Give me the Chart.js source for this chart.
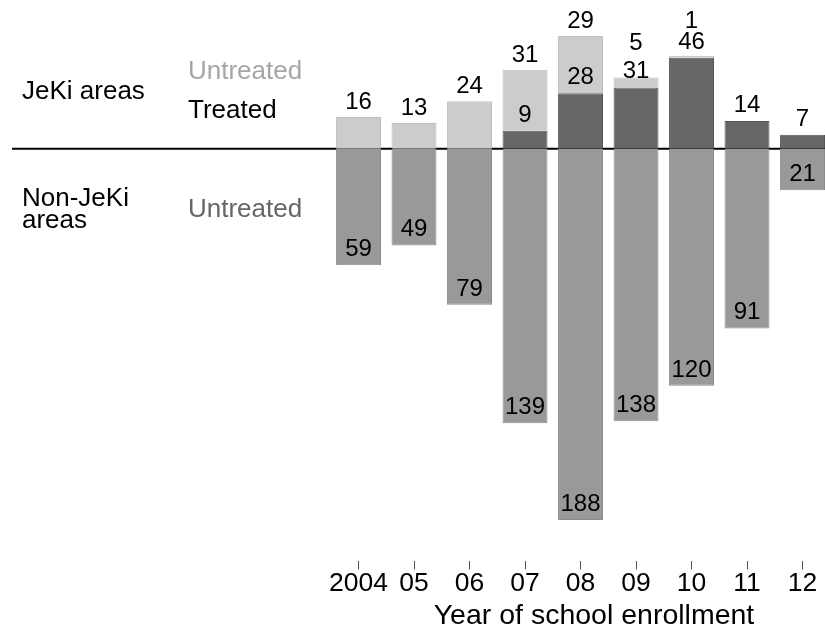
<!DOCTYPE html>
<html>
<head>
<meta charset="utf-8">
<script src="https://cdn.jsdelivr.net/npm/chart.js@4/dist/chart.umd.min.js"></script>
<style>
  html, body { margin: 0; padding: 0; background: #fff; overflow: hidden; }
  #wrap { width: 825px; height: 628px; }
</style>
</head>
<body>
<div id="wrap"><canvas id="chart" width="825" height="628"></canvas></div>
<script>
var years = ['2004', '05', '06', '07', '08', '09', '10', '11', '12'];
var jekiTreated = [null, null, null, 9, 28, 31, 46, 14, 7];
var jekiUntreated = [16, 13, 24, 31, 29, 5, 1, null, null];
var nonJekiUntreated = [59, 49, 79, 139, 188, 138, 120, 91, 21];

var FONT = '"Liberation Sans", Arial, Helvetica, sans-serif';

function toPoints(values, sign) {
	return values.map(function (v, i) {
		return { x: i, y: v == null ? null : sign * v };
	});
}

var annotate = {
	id: 'annotate',
	beforeDatasetsDraw: function (chart) {
		var ctx = chart.ctx,
			y0 = chart.scales.y.getPixelForValue(0);
		ctx.save();
		ctx.strokeStyle = '#000';
		ctx.lineWidth = 2;
		ctx.beginPath();
		ctx.moveTo(12, y0);
		ctx.lineTo(chart.width, y0);
		ctx.stroke();
		ctx.restore();
	},
	afterDatasetsDraw: function (chart) {
		var ctx = chart.ctx;
		ctx.save();
		ctx.textAlign = 'center';
		ctx.textBaseline = 'alphabetic';
		ctx.fillStyle = '#000';
		ctx.font = '24px ' + FONT;

		// value labels, taken from the bar elements
		chart.getDatasetMeta(0).data.forEach(function (el, i) {
			if (jekiTreated[i] == null) return;
			ctx.fillText(jekiTreated[i], el.x, el.y - 9);
		});
		chart.getDatasetMeta(1).data.forEach(function (el, i) {
			if (jekiUntreated[i] == null) return;
			var h = el.base - el.y;
			ctx.fillText(jekiUntreated[i], el.x, el.y - (h < 20 ? 28 : 8));
		});
		chart.getDatasetMeta(2).data.forEach(function (el, i) {
			if (nonJekiUntreated[i] == null) return;
			ctx.fillText(nonJekiUntreated[i], el.x, el.y - 9);
		});

		// row labels on the left
		ctx.textAlign = 'left';
		ctx.font = '26px ' + FONT;
		ctx.fillStyle = '#000';
		ctx.fillText('JeKi areas', 22, 99);
		ctx.fillText('Non-JeKi', 22, 206);
		ctx.fillText('areas', 22, 228);
		ctx.fillText('Treated', 188, 118);
		ctx.fillStyle = '#a6a6a6';
		ctx.fillText('Untreated', 188, 79);
		ctx.fillStyle = '#666666';
		ctx.fillText('Untreated', 188, 217);

		// axis title
		ctx.textAlign = 'center';
		ctx.fillStyle = '#000';
		ctx.font = '28.5px ' + FONT;
		ctx.fillText('Year of school enrollment', 594, 624);
		ctx.restore();
	}
};

new Chart(document.getElementById('chart'), {
	type: 'bar',
	data: {
		datasets: [
			{
				label: 'JeKi treated',
				data: toPoints(jekiTreated, 1),
				backgroundColor: '#666666',
				borderColor: '#555555',
				borderWidth: 1,
				stack: 's'
			},
			{
				label: 'JeKi untreated',
				data: toPoints(jekiUntreated, 1),
				backgroundColor: '#cccccc',
				borderColor: '#bdbdbd',
				borderWidth: 1,
				stack: 's'
			},
			{
				label: 'Non-JeKi untreated',
				data: toPoints(nonJekiUntreated, -1),
				backgroundColor: '#999999',
				borderColor: '#8a8a8a',
				borderWidth: 1,
				stack: 's'
			}
		]
	},
	options: {
		responsive: false,
		animation: false,
		devicePixelRatio: 1,
		layout: { padding: { left: 0, right: 0, top: 0, bottom: 29.5 } },
		plugins: {
			legend: { display: false },
			tooltip: { enabled: false }
		},
		datasets: {
			bar: { barPercentage: 0.81, categoryPercentage: 1 }
		},
		scales: {
			x: {
				type: 'linear',
				stacked: true,
				offset: false,
				min: -6.46,
				max: 8.405,
				afterBuildTicks: function (scale) {
					scale.ticks = years.map(function (y, i) { return { value: i }; });
				},
				ticks: {
					autoSkip: false,
					maxRotation: 0,
					padding: 1.25,
					color: '#000',
					font: { family: FONT, size: 26.5, lineHeight: 1 },
					callback: function (v) { return years[v]; }
				},
				grid: {
					offset: false,
					drawOnChartArea: false,
					drawTicks: true,
					tickLength: 9,
					color: '#555',
					lineWidth: 1
				},
				border: { display: false }
			},
			y: {
				display: false,
				stacked: true,
				min: -208.5,
				max: 75.25
			}
		}
	},
	plugins: [annotate]
});
</script>
</body>
</html>
